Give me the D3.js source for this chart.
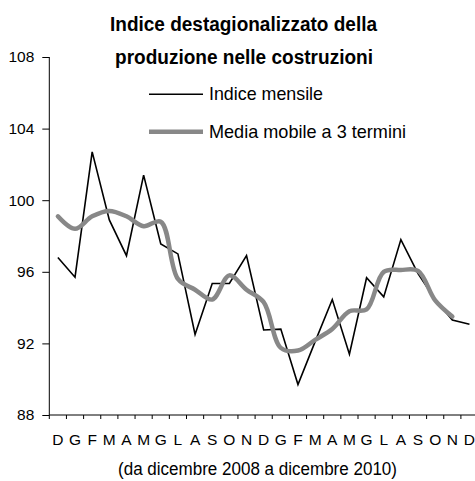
<!DOCTYPE html>
<html>
<head>
<meta charset="utf-8">
<script src="https://cdn.jsdelivr.net/npm/d3@7"></script>
<style>
  body { margin: 0; background: #fff; }
  svg text { font-family: "Liberation Sans", Arial, sans-serif; fill: #000; }
</style>
</head>
<body>
<div id="chart"></div>
<script>
var width = 475,
    height = 481;

// mesi da dicembre 2008 a dicembre 2010
var months = ["D","G","F","M","A","M","G","L","A","S","O","N",
              "D","G","F","M","A","M","G","L","A","S","O","N","D"];

// indice mensile destagionalizzato
var indice = [96.8, 95.7, 102.7, 98.9, 96.9, 101.4, 97.55, 97.0, 92.5, 95.35, 95.35, 96.9,
              92.75, 92.8, 89.7, 92.1, 94.45, 91.4, 95.67, 94.6, 97.8, 95.9, 94.45, 93.3, 93.07];

// media mobile a 3 termini (fino a novembre 2010)
var media = [99.1, 98.4, 99.1, 99.4, 99.1, 98.55, 98.8, 95.6, 95.0, 94.45, 95.8, 95.0,
             94.3, 91.75, 91.6, 92.2, 92.8, 93.8, 93.9, 96.0, 96.1, 96.05, 94.4, 93.5];

var yTicks = [88, 92, 96, 100, 104, 108];

var svg = d3.select("#chart").append("svg")
    .attr("width", width)
    .attr("height", height);

var x = d3.scaleBand()
    .domain(d3.range(months.length))
    .range([49.3, 49.3 + 17.15 * months.length]);

var y = d3.scaleLinear()
    .domain([88, 108])
    .range([415, 57]);

var cx = function(i) { return x(i) + x.bandwidth() / 2; };

// y axis
var yAxis = svg.append("g")
    .attr("transform", "translate(49.3,0)")
    .call(d3.axisLeft(y).tickValues(yTicks).tickSize(7).tickPadding(8).tickFormat(d3.format("d")));
yAxis.select(".domain").attr("d", "M0," + y(108) + "V" + y(88));
yAxis.selectAll("line").attr("stroke", "#000");
yAxis.selectAll("text").style("font-size", "15.5px");

// x axis: ticks between months, labels centred
var xAxis = svg.append("g")
    .attr("transform", "translate(0,415)");
xAxis.append("line")
    .attr("x1", 49.3).attr("x2", x.range()[1])
    .attr("stroke", "#000");
xAxis.selectAll(".tk")
    .data(d3.range(months.length + 1))
    .enter().append("line")
    .attr("class", "tk")
    .attr("x1", function(d) { return 49.3 + d * x.step(); })
    .attr("x2", function(d) { return 49.3 + d * x.step(); })
    .attr("y1", 0).attr("y2", 4)
    .attr("stroke", "#000");
xAxis.selectAll(".lab")
    .data(months)
    .enter().append("text")
    .attr("class", "lab")
    .attr("x", function(d, i) { return cx(i); })
    .attr("y", 30)
    .attr("text-anchor", "middle")
    .style("font-size", "15.5px")
    .text(function(d) { return d; });

// moving average (smoothed, grey)
var lineMedia = d3.line()
    .x(function(d, i) { return cx(i); })
    .y(function(d) { return y(d); })
    .curve(d3.curveCatmullRom.alpha(0.5));

var lineIndice = d3.line()
    .x(function(d, i) { return cx(i); })
    .y(function(d) { return y(d); });

svg.append("path")
    .datum(indice)
    .attr("d", lineIndice)
    .attr("fill", "none")
    .attr("stroke", "#000")
    .attr("stroke-width", 1.6);

svg.append("path")
    .datum(media)
    .attr("d", lineMedia)
    .attr("fill", "none")
    .attr("stroke", "#888")
    .attr("stroke-width", 4.5)
    .attr("stroke-linejoin", "round")
    .attr("stroke-linecap", "round");

// title (glyphs a bit narrow, as in the source)
var title = svg.append("g")
    .style("font-size", "20px")
    .style("font-weight", "bold");
title.append("text").attr("x", 110).attr("y", 31)
    .attr("textLength", 267).attr("lengthAdjust", "spacingAndGlyphs")
    .text("Indice destagionalizzato della");
title.append("text").attr("x", 115).attr("y", 64)
    .attr("textLength", 258).attr("lengthAdjust", "spacingAndGlyphs")
    .text("produzione nelle costruzioni");

// legend
var legend = [
  {label: "Indice mensile", color: "#000", w: 1.6, y: 94.3, len: 114},
  {label: "Media mobile a 3 termini", color: "#888", w: 4.5, y: 131.7, len: 197}
];
var lg = svg.selectAll(".legend")
    .data(legend)
    .enter().append("g");
lg.append("line")
    .attr("x1", 149).attr("x2", 203)
    .attr("y1", function(d) { return d.y; })
    .attr("y2", function(d) { return d.y; })
    .attr("stroke", function(d) { return d.color; })
    .attr("stroke-width", function(d) { return d.w; });
lg.append("text")
    .attr("x", 209)
    .attr("y", function(d) { return d.y + 6; })
    .attr("textLength", function(d) { return d.len; })
    .attr("lengthAdjust", "spacingAndGlyphs")
    .style("font-size", "18.5px")
    .text(function(d) { return d.label; });

// footnote
svg.append("text")
    .attr("x", 118)
    .attr("y", 475)
    .attr("textLength", 279)
    .attr("lengthAdjust", "spacingAndGlyphs")
    .style("font-size", "17.5px")
    .text("(da dicembre 2008 a dicembre 2010)");
</script>
</body>
</html>
